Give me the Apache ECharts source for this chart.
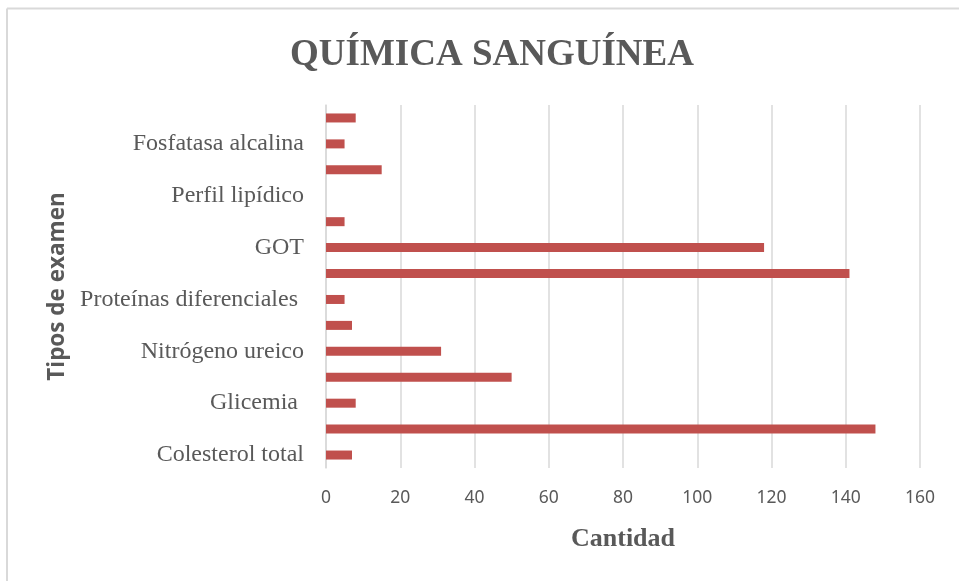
<!DOCTYPE html>
<html>
<head>
<meta charset="utf-8">
<script src="https://cdn.jsdelivr.net/npm/echarts@6/dist/echarts.min.js"></script>
<style>
  html, body { margin: 0; padding: 0; background: #fff; }
  #chart { width: 959px; height: 581px; }
</style>
</head>
<body>
<div id="chart"></div>
<script>
// categorias de abajo hacia arriba (solo se muestra una de cada dos)
var examenes = [
  'Colesterol total', 'Triglicéridos', 'Glicemia ', 'Creatinina',
  'Nitrógeno ureico', 'Ácido úrico', 'Proteínas diferenciales ', 'GPT',
  'GOT', 'Bilirrubina', 'Perfil lipídico', 'Proteínas totales',
  'Fosfatasa alcalina', 'Amilasa'
];
var cantidades = [7, 148, 8, 50, 31, 7, 5, 141, 118, 5, 0, 15, 5, 8];
var ejeX = { min: 0, max: 160, interval: 20 };

var gris = '#595959';
var chart = echarts.init(document.getElementById('chart'));
var option = {
  backgroundColor: '#fff',
  animation: false,
  title: {
    text: 'QUÍMICA SANGUÍNEA',
    left: 285,
    top: 32,
    textStyle: {
      fontFamily: 'Liberation Serif',
      fontSize: 37,
      fontWeight: 'bold',
      color: gris
    }
  },
  // marco gris del grafico
  graphic: [
    { type: 'line', shape: { x1: 7, y1: 8.5, x2: 959, y2: 8.5 }, style: { stroke: '#d9d9d9', lineWidth: 2 } },
    { type: 'line', shape: { x1: 7, y1: 8.5, x2: 7, y2: 581 }, style: { stroke: '#d9d9d9', lineWidth: 2 } }
  ],
  grid: { left: 326, right: 39, top: 105, bottom: 113 },
  xAxis: {
    type: 'value',
    min: ejeX.min,
    max: ejeX.max,
    interval: ejeX.interval,
    name: 'Cantidad',
    nameLocation: 'middle',
    nameGap: 58,
    nameTextStyle: {
      fontFamily: 'Liberation Serif',
      fontSize: 26,
      fontWeight: 'bold',
      color: gris
    },
    axisLine: { show: false },
    axisTick: { show: false },
    axisLabel: { margin: 21, fontFamily: 'Noto Sans', fontSize: 17.5, color: gris },
    splitLine: { lineStyle: { color: '#d9d9d9', width: 1.5 } }
  },
  yAxis: {
    type: 'category',
    data: examenes,
    name: 'Tipos de examen',
    nameLocation: 'middle',
    nameRotate: 90,
    nameGap: 254,
    nameTextStyle: {
      fontFamily: 'Open Sans',
      fontSize: 22.5,
      fontWeight: 'bold',
      color: gris
    },
    axisLine: { show: true, lineStyle: { color: '#d9d9d9', width: 1.5 } },
    axisTick: { show: false },
    axisLabel: {
      interval: 1,
      margin: 22,
      fontFamily: 'Liberation Serif',
      fontSize: 24,
      color: gris
    }
  },
  series: [{
    type: 'bar',
    data: cantidades,
    barWidth: 9,
    itemStyle: { color: '#c0504d' }
  }]
};
chart.setOption(option);
</script>
</body>
</html>
